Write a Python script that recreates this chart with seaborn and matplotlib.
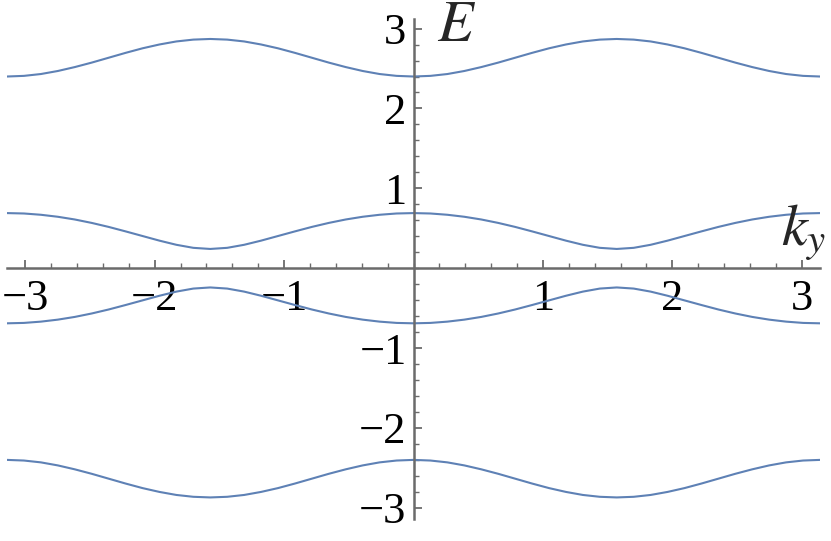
import matplotlib
matplotlib.use("Agg")
import matplotlib.pyplot as plt
import matplotlib.ticker as mticker
import numpy as np
import pandas as pd
import seaborn as sns

# k_y grid from -pi to pi, 49 samples
k_y = np.linspace(-np.pi, np.pi, 49)

# energies at each k_y
band_1 = [2.400, 2.408, 2.431, 2.469, 2.518, 2.574, 2.635, 2.696, 2.753, 2.801, 2.839, 2.862, 2.870,
          2.862, 2.839, 2.801, 2.753, 2.696, 2.635, 2.574, 2.518, 2.469, 2.431, 2.408, 2.400,
          2.408, 2.431, 2.469, 2.518, 2.574, 2.635, 2.696, 2.753, 2.801, 2.839, 2.862, 2.870,
          2.862, 2.839, 2.801, 2.753, 2.696, 2.635, 2.574, 2.518, 2.469, 2.431, 2.408, 2.400]
band_2 = [0.690, 0.685, 0.669, 0.644, 0.610, 0.567, 0.517, 0.461, 0.403, 0.345, 0.293, 0.255, 0.241,
          0.255, 0.293, 0.345, 0.403, 0.461, 0.517, 0.567, 0.610, 0.644, 0.669, 0.685, 0.690,
          0.685, 0.669, 0.644, 0.610, 0.567, 0.517, 0.461, 0.403, 0.345, 0.293, 0.255, 0.241,
          0.255, 0.293, 0.345, 0.403, 0.461, 0.517, 0.567, 0.610, 0.644, 0.669, 0.685, 0.690]
band_3 = [-0.690, -0.685, -0.669, -0.644, -0.610, -0.567, -0.517, -0.461, -0.403, -0.345, -0.293, -0.255, -0.241,
          -0.255, -0.293, -0.345, -0.403, -0.461, -0.517, -0.567, -0.610, -0.644, -0.669, -0.685, -0.690,
          -0.685, -0.669, -0.644, -0.610, -0.567, -0.517, -0.461, -0.403, -0.345, -0.293, -0.255, -0.241,
          -0.255, -0.293, -0.345, -0.403, -0.461, -0.517, -0.567, -0.610, -0.644, -0.669, -0.685, -0.690]
band_4 = [-2.400, -2.408, -2.431, -2.469, -2.518, -2.574, -2.635, -2.696, -2.753, -2.801, -2.839, -2.862, -2.870,
          -2.862, -2.839, -2.801, -2.753, -2.696, -2.635, -2.574, -2.518, -2.469, -2.431, -2.408, -2.400,
          -2.408, -2.431, -2.469, -2.518, -2.574, -2.635, -2.696, -2.753, -2.801, -2.839, -2.862, -2.870,
          -2.862, -2.839, -2.801, -2.753, -2.696, -2.635, -2.574, -2.518, -2.469, -2.431, -2.408, -2.400]

LINE_COLOR = "#5e81b5"
AXIS_COLOR = "#6b6b6b"

sns.set_style("white")
plt.rcParams["font.family"] = ["Liberation Serif", "DejaVu Serif"]
plt.rcParams["mathtext.fontset"] = "stix"

fig = plt.figure(figsize=(8.31, 5.41), dpi=100)
ax = fig.add_axes([7 / 831, 22 / 541, 813 / 831, 500 / 541])

for band in [band_1, band_2, band_3, band_4]:
    df = pd.DataFrame({"k": k_y, "E": band})
    sns.lineplot(data=df, x="k", y="E", ax=ax, color=LINE_COLOR, linewidth=1.5,
                 estimator=None, sort=False)

ax.set_xlim(-np.pi, np.pi)
ax.set_ylim(-3.14, 3.12)

for side in ["top", "right"]:
    ax.spines[side].set_visible(False)
for side in ["left", "bottom"]:
    ax.spines[side].set_position("zero")
    ax.spines[side].set_color(AXIS_COLOR)
    ax.spines[side].set_linewidth(1.8)

ax.xaxis.set_major_locator(mticker.FixedLocator([-3, -2, -1, 1, 2, 3]))
ax.yaxis.set_major_locator(mticker.FixedLocator([-3, -2, -1, 1, 2, 3]))
ax.xaxis.set_minor_locator(mticker.MultipleLocator(0.2))
ax.yaxis.set_minor_locator(mticker.MultipleLocator(0.2))
fmt = mticker.FuncFormatter(lambda v, p: f"{int(round(v))}".replace("-", "\u2212"))
ax.xaxis.set_major_formatter(fmt)
ax.yaxis.set_major_formatter(fmt)

ax.tick_params(which="both", bottom=True, left=True)
ax.tick_params(which="major", direction="in", length=5.5, width=1.3, color=AXIS_COLOR,
               labelsize=32, labelcolor="black")
ax.tick_params(which="minor", direction="in", length=3.5, width=1.0, color=AXIS_COLOR)
ax.tick_params(axis="x", which="major", pad=8)
ax.tick_params(axis="y", which="major", pad=5)
ax.set_xlabel("")
ax.set_ylabel("")

ax.text(0.18, 2.85, "$E$", fontsize=42, ha="left", va="baseline")
ax.text(2.84, 0.29, "$k_y$", fontsize=42, ha="left", va="baseline")

fig.savefig("out.png", dpi=100)
